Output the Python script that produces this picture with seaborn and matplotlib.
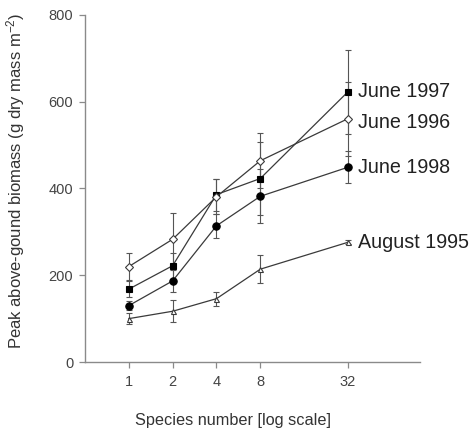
import matplotlib
matplotlib.use("Agg")
import matplotlib.pyplot as plt
import seaborn as sns
import pandas as pd

# Species richness levels (log2 spaced) and peak biomass per harvest
species = [1, 2, 4, 8, 32]

june1997 = [168, 222, 386, 423, 623]
june1997_err = [18, 30, 37, 84, 97]

june1996 = [220, 283, 381, 464, 561]
june1996_err = [32, 60, 40, 64, 85]

june1998 = [130, 187, 314, 382, 449]
june1998_err = [10, 25, 28, 62, 37]

aug1995 = [100, 117, 146, 214, 276]
aug1995_err = [13, 25, 16, 32, 5]

series_names = ["June 1997", "June 1996", "June 1998", "August 1995"]
label_y = [623, 553, 449, 275]

sns.set_theme(style="ticks")
plt.rcParams["font.family"] = ["Liberation Sans", "DejaVu Sans"]
plt.rcParams["mathtext.fontset"] = "custom"
plt.rcParams["mathtext.rm"] = "Liberation Sans"
plt.rcParams["mathtext.it"] = "Liberation Sans:italic"

fig = plt.figure(figsize=(4.71, 4.29), dpi=100)
ax = fig.add_axes([85 / 471, 1 - 362 / 429, 335 / 471, 347 / 429])

line_col = "#3a3a3a"
axis_col = "#8a8a8a"

styles = {
    "June 1997": dict(marker="s", mfc="black", mec="black", ms=5.0),
    "June 1996": dict(marker="D", mfc="white", mec=line_col, ms=4.3),
    "June 1998": dict(marker="o", mfc="black", mec="black", ms=5.3),
    "August 1995": dict(marker="^", mfc="white", mec=line_col, ms=3.6),
}
values = {"June 1997": (june1997, june1997_err),
          "June 1996": (june1996, june1996_err),
          "June 1998": (june1998, june1998_err),
          "August 1995": (aug1995, aug1995_err)}

for name in series_names:
    y, e = values[name]
    df = pd.DataFrame({"species": species, "biomass": y})
    ax.errorbar(species, y, yerr=e, fmt="none", ecolor="#555555",
                elinewidth=0.8, capsize=2.5, capthick=0.8, zorder=2)
    st = styles[name]
    sns.lineplot(data=df, x="species", y="biomass", ax=ax, color=line_col,
                 linewidth=0.9, marker=st["marker"], markersize=st["ms"],
                 markerfacecolor=st["mfc"], markeredgecolor=st["mec"],
                 markeredgewidth=0.8, zorder=3)

for name, ly in zip(series_names, label_y):
    ax.annotate(name, xy=(32, ly), xytext=(7, 0), textcoords="offset points",
                va="center", ha="left", fontsize=14.2, color="#222222")

ax.set_xscale("log")
ax.set_xlim(0.5, 100)
ax.set_ylim(0, 800)
ax.set_xticks(species)
ax.set_xticklabels([str(s) for s in species])
ax.minorticks_off()
ax.set_yticks([0, 200, 400, 600, 800])

for side in ["top", "right"]:
    ax.spines[side].set_visible(False)
for side in ["left", "bottom"]:
    ax.spines[side].set_color(axis_col)
    ax.spines[side].set_linewidth(1.0)
ax.tick_params(axis="both", direction="out", length=4, width=0.9,
               color=axis_col, labelsize=10.5, labelcolor="#444444")
ax.tick_params(axis="y", pad=4.5)
ax.tick_params(axis="x", pad=5)

ax.set_xlabel("")
ax.set_ylabel("")
fig.text(233 / 471, 1 - 420 / 429, "Species number [log scale]",
         fontsize=11.7, color="#333333", ha="center", va="center")
fig.text(16 / 471, 1 - 181 / 429,
         "Peak above-gound biomass (g dry mass m$^{-2}$)",
         fontsize=12, color="#333333", ha="center", va="center",
         rotation=90)

fig.savefig("out.png", dpi=100)
